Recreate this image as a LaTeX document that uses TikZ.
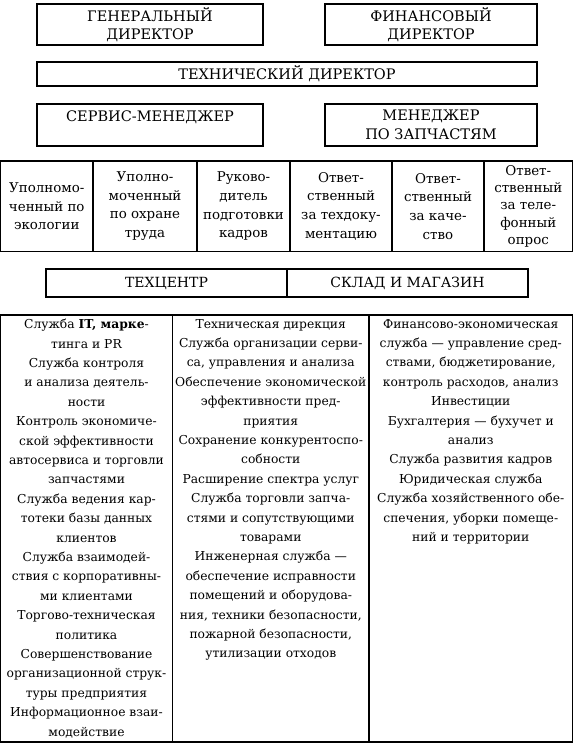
\documentclass[tikz,border=0pt]{standalone}
\usepackage{fontspec}
\setmainfont{DejaVu Serif}
\begin{document}
\begin{tikzpicture}[x=1pt,y=-1pt,
  hbox/.style={draw, line width=1.3pt, inner sep=0pt, align=center, font=\fontsize{14.5}{18.5}\selectfont},
  cell/.style={draw, line width=1.2pt, inner sep=0pt, align=center, font=\fontsize{13.4}{18.6}\selectfont},
  frame/.style={draw, line width=1.2pt, inner sep=0pt},
  body/.style={anchor=north, inner sep=0pt, align=center, font=\fontsize{12.3}{19.4}\selectfont}]
\useasboundingbox (0,0) rectangle (573,743);

% top boxes
\node[hbox, minimum width=226pt, minimum height=41pt] (gen) at (150,24.5) {ГЕНЕРАЛЬНЫЙ\\ДИРЕКТОР};
\node[hbox, minimum width=212pt, minimum height=41pt] (fin) at (431,24.5) {ФИНАНСОВЫЙ\\ДИРЕКТОР};
\node[hbox, minimum width=500pt, minimum height=24pt] (tech) at (287,74) {ТЕХНИЧЕСКИЙ ДИРЕКТОР};
\node[hbox, minimum width=226pt, minimum height=42pt] (serv) at (150,125) {СЕРВИС-МЕНЕДЖЕР\\\phantom{Й}};
\node[hbox, minimum width=212pt, minimum height=42pt] (men) at (431,125) {МЕНЕДЖЕР\\ПО ЗАПЧАСТЯМ};

% responsible persons row
\node[cell, minimum width=92.5pt, minimum height=90.5pt] (c1) at (46.75,206.25) {Уполномо-\\ченный по\\экологии};
\node[cell, minimum width=104pt, minimum height=90.5pt] (c2) at (145,206.25) {Уполно-\\моченный\\по охране\\труда};
\node[cell, minimum width=93pt, minimum height=90.5pt] (c3) at (243.5,206.25) {Руково-\\дитель\\подготовки\\кадров};
\node[cell, minimum width=102pt, minimum height=90.5pt] (c4) at (341,206.25) {Ответ-\\ственный\\за техдоку-\\ментацию};
\node[cell, minimum width=92pt, minimum height=90.5pt] (c5) at (438,206.25) {Ответ-\\ственный\\за каче-\\ство};
\node[cell, minimum width=88.5pt, minimum height=90.5pt, font=\fontsize{13.4}{17.4}\selectfont] (c6) at (528.25,206.25) {Ответ-\\ственный\\за теле-\\фонный\\опрос};

% techcenter / store
\node[hbox, minimum width=241pt, minimum height=28pt, font=\fontsize{14}{18}\selectfont] (tc) at (166.5,283) {ТЕХЦЕНТР};
\node[hbox, minimum width=241pt, minimum height=28pt, font=\fontsize{14}{18}\selectfont] (sk) at (407.5,283) {СКЛАД И МАГАЗИН};

% bottom table
\node[frame, minimum width=172pt, minimum height=427pt] (b1) at (86.5,528.5) {};
\node[frame, minimum width=196.5pt, minimum height=427pt] (b2) at (270.75,528.5) {};
\node[frame, minimum width=203.5pt, minimum height=427pt] (b3) at (470.75,528.5) {};

\node[body] (t1) at (86.5,319) {Служба \textbf{IT, марке}-\\тинга и PR\\Служба контроля\\и анализа деятель-\\ности\\Контроль экономиче-\\ской эффективности\\автосервиса и торговли\\запчастями\\Служба ведения кар-\\тотеки базы данных\\клиентов\\Служба взаимодей-\\ствия с корпоративны-\\ми клиентами\\Торгово-техническая\\политика\\Совершенствование\\организационной струк-\\туры предприятия\\Информационное взаи-\\модействие};
\node[body] (t2) at (270.75,319) {Техническая дирекция\\Служба организации серви-\\са, управления и анализа\\Обеспечение экономической\\эффективности пред-\\приятия\\Сохранение конкурентоспо-\\собности\\Расширение спектра услуг\\Служба торговли запча-\\стями и сопутствующими\\товарами\\Инженерная служба —\\обеспечение исправности\\помещений и оборудова-\\ния, техники безопасности,\\пожарной безопасности,\\утилизации отходов};
\node[body] (t3) at (470.75,319) {Финансово-экономическая\\служба — управление сред-\\ствами, бюджетирование,\\контроль расходов, анализ\\Инвестиции\\Бухгалтерия — бухучет и\\анализ\\Служба развития кадров\\Юридическая служба\\Служба хозяйственного обе-\\спечения, уборки помеще-\\ний и территории};
\end{tikzpicture}
\end{document}
